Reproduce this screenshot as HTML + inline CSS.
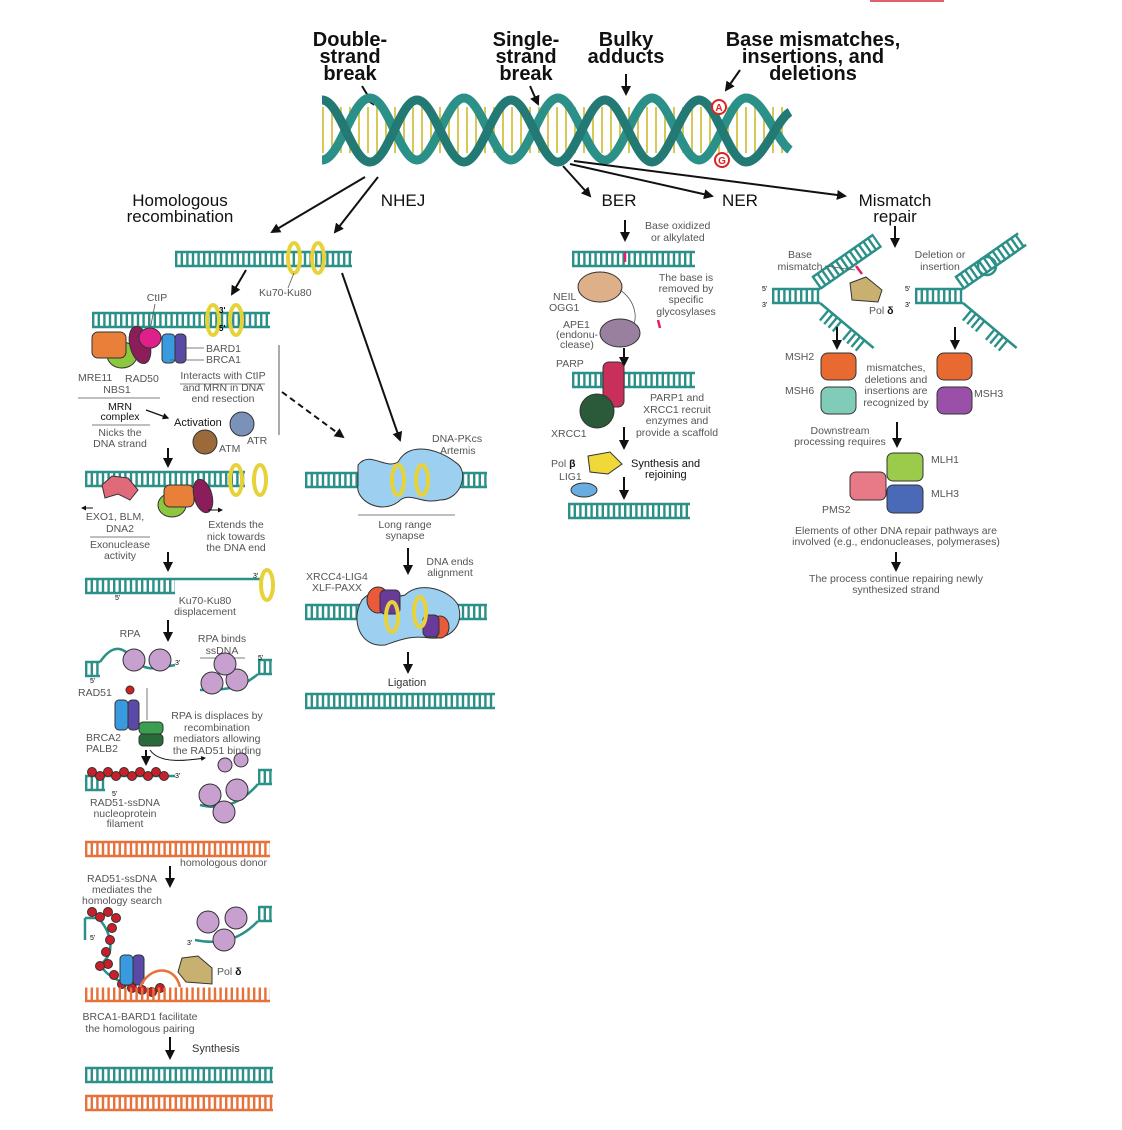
<!DOCTYPE html>
<html><head><meta charset="utf-8"><style>
body{margin:0;background:#fff}
svg{display:block;font-family:"Liberation Sans",sans-serif}
.r{stroke:#2a9088;stroke-width:13;stroke-dasharray:2.4 3.2;fill:none}
.rl{stroke:#2a9088;stroke-width:2.5;fill:none}
.ro{stroke:#e8703a;stroke-width:13;stroke-dasharray:2.4 3.2;fill:none}
.rol{stroke:#e8703a;stroke-width:2.5;fill:none}
.t{font-size:10.5px;fill:#555;text-anchor:middle}
.tl{font-size:10.5px;fill:#555}
.h{font-size:20px;font-weight:bold;fill:#111;text-anchor:middle}
.s{font-size:17px;fill:#111;text-anchor:middle}
.a{stroke:#111;stroke-width:2;fill:none;marker-end:url(#ar)}
.ku{fill:none;stroke:#e8d23a;stroke-width:4}
.kuo{fill:none;stroke:#333;stroke-width:0.8}
.ln{stroke:#555;stroke-width:0.8;fill:none}
.k{stroke:#333;stroke-width:1}
</style></head><body>
<svg width="1122" height="1130" viewBox="0 0 1122 1130">
<defs>
<marker id="ar" viewBox="0 0 10 10" refX="8" refY="5" markerWidth="5" markerHeight="5" orient="auto"><path d="M0,0L10,5L0,10z" fill="#111"/></marker>
<clipPath id="hc"><rect x="322" y="100" width="468" height="60"/></clipPath>
</defs>
<rect x="870" y="0" width="74" height="2" fill="#e06070"/>
<!-- headers -->
<text class="h" x="350" y="46">Double-</text><text class="h" x="350" y="63">strand</text><text class="h" x="350" y="80">break</text>
<text class="h" x="526" y="46">Single-</text><text class="h" x="526" y="63">strand</text><text class="h" x="526" y="80">break</text>
<text class="h" x="626" y="46">Bulky</text><text class="h" x="626" y="63">adducts</text>
<text class="h" x="813" y="46">Base mismatches,</text><text class="h" x="813" y="63">insertions, and</text><text class="h" x="813" y="80">deletions</text>
<line class="a" x1="362" y1="86" x2="373" y2="104"/>
<line class="a" x1="530" y1="86" x2="538" y2="104"/>
<line class="a" x1="626" y1="74" x2="626" y2="94"/>
<line class="a" x1="740" y1="70" x2="726" y2="90"/>
<!-- helix -->
<line x1="322" y1="130" x2="790" y2="130" stroke="#d8c858" stroke-width="46" stroke-dasharray="2 7" clip-path="url(#hc)"/>
<path d="M322,160 C340,160 352,98 370,98 S400,160 417,160 S447,98 464,98 S494,160 511,160 S541,98 558,98 S588,160 605,160 S635,98 652,98 S682,160 699,160 S729,98 746,98 S776,140 790,150" fill="none" stroke="#2a9088" stroke-width="9"/>
<path d="M322,100 C340,100 352,162 370,162 S400,100 417,100 S447,162 464,162 S494,100 511,100 S541,162 558,162 S588,100 605,100 S635,162 652,162 S682,100 699,100 S729,162 746,162 S776,120 790,112" fill="none" stroke="#237a74" stroke-width="9"/>
<circle cx="719" cy="107" r="7" fill="#fff" stroke="#d22" stroke-width="2"/><text x="719" y="111" font-size="10" font-weight="bold" fill="#d22" text-anchor="middle">A</text>
<circle cx="722" cy="160" r="7" fill="#fff" stroke="#d22" stroke-width="2"/><text x="722" y="164" font-size="10" font-weight="bold" fill="#d22" text-anchor="middle">G</text>
<!-- branch arrows -->
<line class="a" x1="365" y1="177" x2="272" y2="232"/>
<line class="a" x1="378" y1="177" x2="335" y2="232"/>
<line class="a" x1="563" y1="166" x2="590" y2="196"/>
<line class="a" x1="570" y1="164" x2="712" y2="196"/>
<line class="a" x1="574" y1="161" x2="845" y2="196"/>
<text class="s" x="180" y="206">Homologous</text><text class="s" x="180" y="222">recombination</text>
<text class="s" x="403" y="206">NHEJ</text>
<text class="s" x="619" y="206">BER</text>
<text class="s" x="740" y="206">NER</text>
<text class="s" x="895" y="206">Mismatch</text><text class="s" x="895" y="222">repair</text>

<!-- HR -->
<line class="r" x1="175" y1="259" x2="352" y2="259"/><line class="rl" x1="175" y1="252" x2="352" y2="252"/><line class="rl" x1="175" y1="266" x2="352" y2="266"/>
<ellipse class="ku" cx="294" cy="258" rx="6" ry="15"/><ellipse class="ku" cx="318" cy="258" rx="6" ry="15"/>
<text class="tl" x="259" y="296">Ku70-Ku80</text><line class="ln" x1="288" y1="288" x2="294" y2="273"/>
<line class="a" x1="246" y1="270" x2="232" y2="294"/>
<line class="r" x1="92" y1="320" x2="270" y2="320"/><line class="rl" x1="92" y1="313" x2="270" y2="313"/><line class="rl" x1="92" y1="327" x2="270" y2="327"/>
<ellipse class="ku" cx="213" cy="320" rx="6" ry="15"/><ellipse class="ku" cx="236" cy="320" rx="6" ry="15"/>
<text x="219" y="313" font-size="8" font-weight="bold">3'</text><text x="219" y="331" font-size="8" font-weight="bold">5'</text>
<ellipse cx="122" cy="355" rx="15" ry="13" fill="#8dc63f" class="k"/>
<rect x="92" y="332" width="34" height="26" rx="6" fill="#e8803a" class="k"/>
<ellipse cx="140" cy="345" rx="10" ry="19" fill="#8b1e5a" class="k" transform="rotate(-15 140 345)"/>
<ellipse cx="150" cy="338" rx="11" ry="10" fill="#e0208a" class="k"/>
<rect x="162" y="334" width="13" height="29" rx="4" fill="#3a9ae0" class="k"/><rect x="175" y="334" width="11" height="29" rx="4" fill="#5a4aa8" class="k"/>
<text class="t" x="157" y="301">CtIP</text><line class="ln" x1="155" y1="304" x2="150" y2="330"/>
<text class="tl" x="206" y="352">BARD1</text><text class="tl" x="206" y="363">BRCA1</text>
<line class="ln" x1="183" y1="348" x2="204" y2="348"/><line class="ln" x1="170" y1="360" x2="204" y2="360"/>
<text class="tl" x="78" y="381">MRE11</text><text class="tl" x="125" y="382">RAD50</text><text class="t" x="117" y="393">NBS1</text>
<line class="ln" x1="78" y1="398" x2="160" y2="398"/>
<text class="t" x="120" y="410" fill="#111" style="fill:#111">MRN</text><text class="t" x="120" y="420" style="fill:#111">complex</text>
<line class="ln" x1="92" y1="425" x2="150" y2="425"/>
<text class="t" x="120" y="436">Nicks the</text><text class="t" x="120" y="447">DNA strand</text>
<line class="ln" x1="180" y1="384" x2="265" y2="384"/>
<text class="t" x="223" y="379">Interacts with CtIP</text><text class="t" x="223" y="391">and MRN in DNA</text><text class="t" x="223" y="402">end resection</text>
<line x1="146" y1="410" x2="168" y2="418" class="a" style="stroke-width:1.3"/>
<text x="174" y="426" font-size="11" fill="#111">Activation</text>
<circle cx="242" cy="424" r="12" fill="#7a92b8" class="k"/><circle cx="205" cy="442" r="12" fill="#9a6a3a" class="k"/>
<text class="tl" x="247" y="444">ATR</text><text class="tl" x="219" y="452">ATM</text>
<line x1="279" y1="345" x2="279" y2="435" stroke="#555" stroke-width="1"/>
<line x1="282" y1="392" x2="343" y2="437" class="a" stroke-dasharray="6 4"/>
<line class="a" x1="342" y1="273" x2="400" y2="440"/>
<line class="a" x1="168" y1="448" x2="168" y2="466"/>
<line class="r" x1="85" y1="479" x2="245" y2="479"/><line class="rl" x1="85" y1="472" x2="245" y2="472"/><line class="rl" x1="85" y1="486" x2="245" y2="486"/>
<ellipse class="ku" cx="236" cy="480" rx="6" ry="15"/><ellipse class="ku" cx="260" cy="480" rx="6" ry="15"/>
<path d="M102,485 L112,476 L128,478 L138,490 L130,500 L118,494 L105,498z" fill="#e06a7a" class="k"/>
<ellipse cx="172" cy="505" rx="14" ry="12" fill="#8dc63f" class="k"/>
<rect x="164" y="485" width="30" height="22" rx="6" fill="#e8803a" class="k"/>
<ellipse cx="203" cy="496" rx="9" ry="17" fill="#8b1e5a" class="k" transform="rotate(-15 203 496)"/>
<line x1="93" y1="508" x2="82" y2="508" class="a" style="stroke-width:1"/><line x1="208" y1="510" x2="222" y2="510" class="a" style="stroke-width:1"/>
<text class="t" x="115" y="520">EXO1, BLM,</text><text class="t" x="120" y="532">DNA2</text>
<line class="ln" x1="90" y1="537" x2="150" y2="537"/>
<text class="t" x="120" y="548">Exonuclease</text><text class="t" x="120" y="559">activity</text>
<text class="t" x="236" y="528">Extends the</text><text class="t" x="236" y="540">nick towards</text><text class="t" x="236" y="551">the DNA end</text>
<line class="a" x1="168" y1="552" x2="168" y2="570"/>
<line class="rl" x1="85" y1="579" x2="262" y2="579"/><line class="r" x1="85" y1="586" x2="175" y2="586"/><line class="rl" x1="85" y1="593" x2="175" y2="593"/>
<text x="115" y="600" font-size="7">5'</text><text x="253" y="578" font-size="7">3'</text>
<ellipse class="ku" cx="267" cy="585" rx="6" ry="15"/>
<text class="t" x="205" y="604">Ku70-Ku80</text><text class="t" x="205" y="615">displacement</text>
<line class="a" x1="168" y1="620" x2="168" y2="640"/>
<text class="t" x="130" y="637">RPA</text>
<line class="rl" x1="85" y1="662" x2="100" y2="662"/><line class="rl" x1="85" y1="676" x2="100" y2="676"/><line class="r" x1="85" y1="669" x2="100" y2="669"/>
<path d="M100,662 C115,640 125,650 135,660 S150,670 175,665" class="rl"/>
<circle cx="134" cy="660" r="11" fill="#c8a0d0" class="k"/><circle cx="160" cy="660" r="11" fill="#c8a0d0" class="k"/>
<text x="90" y="683" font-size="7">5'</text><text x="175" y="665" font-size="7">3'</text>
<text class="t" x="222" y="642">RPA binds</text><text class="t" x="222" y="654">ssDNA</text><line class="ln" x1="200" y1="658" x2="245" y2="658"/>
<line class="rl" x1="258" y1="660" x2="272" y2="660"/><line class="rl" x1="258" y1="674" x2="272" y2="674"/><line class="r" x1="258" y1="667" x2="272" y2="667"/>
<path d="M258,674 C240,690 220,690 200,690" class="rl"/>
<circle cx="212" cy="683" r="11" fill="#c8a0d0" class="k"/><circle cx="237" cy="680" r="11" fill="#c8a0d0" class="k"/><circle cx="225" cy="664" r="11" fill="#c8a0d0" class="k"/>
<text x="258" y="660" font-size="7">5'</text>
<text class="tl" x="78" y="696">RAD51</text><circle cx="130" cy="690" r="4" fill="#d02020" class="k"/>
<rect x="115" y="700" width="13" height="30" rx="4" fill="#3a9ae0" class="k"/><rect x="128" y="700" width="11" height="30" rx="4" fill="#5a4aa8" class="k"/>
<rect x="139" y="722" width="24" height="12" rx="4" fill="#3aa050" class="k"/><rect x="139" y="734" width="24" height="12" rx="4" fill="#2a6a3a" class="k"/>
<line class="ln" x1="147" y1="688" x2="147" y2="720"/>
<text class="tl" x="86" y="741">BRCA2</text><text class="tl" x="86" y="752">PALB2</text>
<text class="t" x="217" y="719">RPA is displaces by</text><text class="t" x="217" y="731">recombination</text><text class="t" x="217" y="742">mediators allowing</text><text class="t" x="217" y="754">the RAD51 binding</text>
<path d="M150,750 C160,765 190,760 205,758" class="a" style="stroke-width:1"/>
<circle cx="225" cy="765" r="7" fill="#c8a0d0" class="k"/><circle cx="241" cy="760" r="7" fill="#c8a0d0" class="k"/>
<line class="a" x1="146" y1="750" x2="146" y2="764"/>
<line class="rl" x1="85" y1="776" x2="175" y2="776"/><line class="r" x1="85" y1="783" x2="105" y2="783"/><line class="rl" x1="85" y1="790" x2="105" y2="790"/>
<g fill="#c8202a" class="k"><circle cx="92" cy="772" r="4.5"/><circle cx="100" cy="776" r="4.5"/><circle cx="108" cy="772" r="4.5"/><circle cx="116" cy="776" r="4.5"/><circle cx="124" cy="772" r="4.5"/><circle cx="132" cy="776" r="4.5"/><circle cx="140" cy="772" r="4.5"/><circle cx="148" cy="776" r="4.5"/><circle cx="156" cy="772" r="4.5"/><circle cx="164" cy="776" r="4.5"/></g>
<text x="175" y="778" font-size="7">3'</text><text x="112" y="796" font-size="7">5'</text>
<text class="t" x="125" y="806">RAD51-ssDNA</text><text class="t" x="125" y="817">nucleoprotein</text><text class="t" x="125" y="827">filament</text>
<line class="rl" x1="258" y1="770" x2="272" y2="770"/><line class="rl" x1="258" y1="784" x2="272" y2="784"/><line class="r" x1="258" y1="777" x2="272" y2="777"/>
<path d="M258,784 C240,805 220,810 200,805" class="rl"/>
<circle cx="210" cy="795" r="11" fill="#c8a0d0" class="k"/><circle cx="237" cy="790" r="11" fill="#c8a0d0" class="k"/><circle cx="224" cy="812" r="11" fill="#c8a0d0" class="k"/>
<line class="ro" x1="85" y1="849" x2="270" y2="849"/><line class="rol" x1="85" y1="842" x2="270" y2="842"/><line class="rol" x1="85" y1="856" x2="270" y2="856"/>
<text class="tl" x="180" y="866">homologous donor</text>
<line class="a" x1="170" y1="866" x2="170" y2="886"/>
<text class="t" x="122" y="882">RAD51-ssDNA</text><text class="t" x="122" y="893">mediates the</text><text class="t" x="122" y="904">homology search</text>
<line class="rl" x1="85" y1="918" x2="85" y2="940"/><line class="rl" x1="85" y1="918" x2="98" y2="918"/>
<path d="M98,918 C110,930 115,950 105,960 S115,980 140,990" class="rl"/>
<g fill="#c8202a" class="k"><circle cx="92" cy="912" r="4.5"/><circle cx="100" cy="917" r="4.5"/><circle cx="108" cy="912" r="4.5"/><circle cx="116" cy="918" r="4.5"/><circle cx="112" cy="928" r="4.5"/><circle cx="110" cy="940" r="4.5"/><circle cx="106" cy="952" r="4.5"/><circle cx="108" cy="964" r="4.5"/><circle cx="114" cy="975" r="4.5"/><circle cx="122" cy="984" r="4.5"/><circle cx="132" cy="988" r="4.5"/><circle cx="142" cy="990" r="4.5"/><circle cx="152" cy="992" r="4.5"/><circle cx="160" cy="988" r="4.5"/><circle cx="100" cy="966" r="4.5"/></g>
<rect x="120" y="955" width="13" height="30" rx="4" fill="#3a9ae0" class="k"/><rect x="133" y="955" width="11" height="30" rx="4" fill="#5a4aa8" class="k"/>
<line class="ro" x1="85" y1="994" x2="270" y2="994"/><line class="rol" x1="85" y1="1001" x2="270" y2="1001"/>
<path d="M140,987 C150,965 175,965 180,987" fill="#f8d0b0" class="rol"/>
<path d="M182,958 L198,956 L212,968 L212,984 L186,982 L178,972z" fill="#c8b070" class="k"/>
<text x="217" y="975" font-size="10.5" fill="#555">Pol <tspan font-weight="bold" fill="#111">δ</tspan></text>
<text x="90" y="940" font-size="7">5'</text><text x="187" y="945" font-size="7">3'</text>
<line class="rl" x1="258" y1="907" x2="272" y2="907"/><line class="rl" x1="258" y1="921" x2="272" y2="921"/><line class="r" x1="258" y1="914" x2="272" y2="914"/>
<path d="M258,921 C240,940 220,945 195,940" class="rl"/>
<circle cx="208" cy="922" r="11" fill="#c8a0d0" class="k"/><circle cx="236" cy="918" r="11" fill="#c8a0d0" class="k"/><circle cx="224" cy="940" r="11" fill="#c8a0d0" class="k"/>
<text class="t" x="140" y="1020">BRCA1-BARD1 facilitate</text><text class="t" x="140" y="1032">the homologous pairing</text>
<line class="a" x1="170" y1="1037" x2="170" y2="1058"/><text x="192" y="1052" font-size="11" fill="#333">Synthesis</text>
<line class="r" x1="85" y1="1075" x2="273" y2="1075"/><line class="rl" x1="85" y1="1068" x2="273" y2="1068"/><line class="rl" x1="85" y1="1082" x2="273" y2="1082"/>
<line class="ro" x1="85" y1="1103" x2="273" y2="1103"/><line class="rol" x1="85" y1="1096" x2="273" y2="1096"/><line class="rol" x1="85" y1="1110" x2="273" y2="1110"/>

<!-- NHEJ -->
<text class="tl" x="432" y="442">DNA-PKcs</text><text class="tl" x="440" y="454">Artemis</text>
<line class="r" x1="305" y1="480" x2="487" y2="480"/><line class="rl" x1="305" y1="473" x2="487" y2="473"/><line class="rl" x1="305" y1="487" x2="487" y2="487"/>
<path d="M358,465 C370,450 385,470 398,462 C410,440 440,450 455,462 C470,470 462,500 440,500 C420,505 410,490 398,502 C380,515 355,500 358,485z" fill="#9dd0f0" class="k"/>
<ellipse class="ku" cx="398" cy="480" rx="6" ry="15"/><ellipse class="ku" cx="422" cy="480" rx="6" ry="15"/>
<line class="ln" x1="358" y1="515" x2="455" y2="515"/>
<text class="t" x="405" y="528">Long range</text><text class="t" x="405" y="539">synapse</text>
<line class="a" x1="408" y1="548" x2="408" y2="573"/>
<text class="t" x="450" y="565">DNA ends</text><text class="t" x="450" y="576">alignment</text>
<text class="tl" x="306" y="580">XRCC4-LIG4</text><text class="tl" x="312" y="591">XLF-PAXX</text>
<line class="r" x1="305" y1="612" x2="487" y2="612"/><line class="rl" x1="305" y1="605" x2="487" y2="605"/><line class="rl" x1="305" y1="619" x2="487" y2="619"/>
<path d="M362,600 C375,585 390,600 405,595 C420,580 450,590 458,605 C465,625 450,640 430,638 C410,635 400,640 385,645 C360,648 350,620 362,600z" fill="#9dd0f0" class="k"/>
<ellipse cx="378" cy="600" rx="11" ry="13" fill="#e85a3a" class="k"/><rect x="380" y="590" width="20" height="24" rx="5" fill="#6a3a9a" class="k"/>
<ellipse cx="440" cy="627" rx="9" ry="11" fill="#e85a3a" class="k"/><rect x="423" y="615" width="16" height="22" rx="5" fill="#6a3a9a" class="k"/>
<ellipse class="ku" cx="392" cy="617" rx="6" ry="15"/><ellipse class="ku" cx="420" cy="612" rx="6" ry="15"/>
<line class="a" x1="408" y1="652" x2="408" y2="672"/>
<text x="407" y="686" font-size="11" fill="#333" text-anchor="middle">Ligation</text>
<line class="r" x1="305" y1="701" x2="495" y2="701"/><line class="rl" x1="305" y1="694" x2="495" y2="694"/><line class="rl" x1="305" y1="708" x2="495" y2="708"/>

<!-- BER -->
<line class="a" x1="625" y1="220" x2="625" y2="240"/>
<text class="tl" x="645" y="229">Base oxidized</text><text class="tl" x="651" y="241">or alkylated</text>
<line class="r" x1="572" y1="259" x2="695" y2="259"/><line class="rl" x1="572" y1="252" x2="695" y2="252"/><line class="rl" x1="572" y1="266" x2="695" y2="266"/>
<line x1="625" y1="252" x2="625" y2="262" stroke="#e0206a" stroke-width="2.5"/>
<text class="t" x="686" y="281">The base is</text><text class="t" x="686" y="292">removed by</text><text class="t" x="686" y="303">specific</text><text class="t" x="686" y="315">glycosylases</text>
<ellipse cx="600" cy="287" rx="22" ry="15" fill="#ddb08a" class="k"/>
<text class="tl" x="553" y="300">NEIL</text><text class="tl" x="549" y="311">OGG1</text>
<path d="M620,290 C635,300 640,320 630,330" class="ln"/><line x1="658" y1="320" x2="660" y2="328" stroke="#e0206a" stroke-width="2.5"/>
<ellipse cx="620" cy="333" rx="20" ry="14" fill="#9a80a0" class="k"/>
<text class="tl" x="563" y="328">APE1</text><text class="tl" x="556" y="338">(endonu-</text><text class="tl" x="560" y="348">clease)</text>
<line class="a" x1="624" y1="348" x2="624" y2="365"/>
<text class="tl" x="556" y="367">PARP</text>
<line class="r" x1="572" y1="380" x2="695" y2="380"/><line class="rl" x1="572" y1="373" x2="695" y2="373"/><line class="rl" x1="572" y1="387" x2="695" y2="387"/>
<rect x="603" y="362" width="21" height="45" rx="6" fill="#c8305a" class="k"/>
<circle cx="597" cy="411" r="17" fill="#2a5a3a" class="k"/>
<text class="tl" x="551" y="437">XRCC1</text>
<text class="t" x="677" y="401">PARP1 and</text><text class="t" x="677" y="413">XRCC1 recruit</text><text class="t" x="677" y="424">enzymes and</text><text class="t" x="677" y="436">provide a scaffold</text>
<line class="a" x1="624" y1="427" x2="624" y2="448"/>
<path d="M588,456 L610,452 L622,464 L608,474 L590,472z" fill="#f0d83a" class="k"/>
<ellipse cx="584" cy="490" rx="13" ry="7" fill="#6aaee0" class="k"/>
<text x="551" y="467" font-size="10.5" fill="#555">Pol <tspan font-weight="bold" fill="#111">β</tspan></text><text class="tl" x="559" y="480">LIG1</text>
<text x="631" y="467" font-size="11" fill="#111">Synthesis and</text><text x="645" y="478" font-size="11" fill="#111">rejoining</text>
<line class="a" x1="624" y1="477" x2="624" y2="498"/>
<line class="r" x1="568" y1="511" x2="690" y2="511"/><line class="rl" x1="568" y1="504" x2="690" y2="504"/><line class="rl" x1="568" y1="518" x2="690" y2="518"/>

<!-- MMR -->
<line class="a" x1="895" y1="226" x2="895" y2="246"/>
<line class="r" x1="772" y1="296" x2="820" y2="296"/><line class="rl" x1="772" y1="289" x2="820" y2="289"/><line class="rl" x1="772" y1="303" x2="820" y2="303"/>
<g transform="rotate(-35 820 289)"><line class="r" x1="820" y1="282" x2="895" y2="282"/><line class="rl" x1="820" y1="289" x2="895" y2="289"/><line class="rl" x1="820" y1="275" x2="895" y2="275"/></g>
<g transform="rotate(40 820 303)"><line class="r" x1="830" y1="310" x2="850" y2="310"/><line class="r" x1="860" y1="310" x2="880" y2="310"/><line class="rl" x1="820" y1="303" x2="890" y2="303"/></g>
<line x1="856" y1="266" x2="862" y2="274" stroke="#e0206a" stroke-width="2.5"/>
<path d="M850,283 L866,277 L882,290 L878,302 L852,300z" fill="#c8b070" class="k"/>
<text class="t" x="800" y="258">Base</text><text class="t" x="800" y="270">mismatch</text><line class="ln" x1="825" y1="266" x2="855" y2="270"/>
<text x="869" y="314" font-size="10.5" fill="#555">Pol <tspan font-weight="bold" fill="#111">δ</tspan></text>
<text x="762" y="291" font-size="7">5'</text><text x="762" y="307" font-size="7">3'</text>
<line class="r" x1="915" y1="296" x2="963" y2="296"/><line class="rl" x1="915" y1="289" x2="963" y2="289"/><line class="rl" x1="915" y1="303" x2="963" y2="303"/>
<g transform="rotate(-35 963 289)"><line class="r" x1="963" y1="282" x2="1040" y2="282"/><line class="rl" x1="963" y1="289" x2="1040" y2="289"/><line class="rl" x1="963" y1="275" x2="1040" y2="275"/></g>
<g transform="rotate(40 963 303)"><line class="r" x1="973" y1="310" x2="993" y2="310"/><line class="r" x1="1003" y1="310" x2="1023" y2="310"/><line class="rl" x1="963" y1="303" x2="1033" y2="303"/></g>
<circle cx="987" cy="266" r="9" fill="none" class="rl"/>
<text class="t" x="940" y="258">Deletion or</text><text class="t" x="940" y="270">insertion</text>
<text x="905" y="291" font-size="7">5'</text><text x="905" y="307" font-size="7">3'</text>
<line class="a" x1="837" y1="327" x2="837" y2="348"/><line class="a" x1="955" y1="327" x2="955" y2="348"/>
<rect x="821" y="353" width="35" height="27" rx="7" fill="#e86a30" class="k"/><rect x="821" y="387" width="35" height="27" rx="7" fill="#80ccb8" class="k"/>
<rect x="937" y="353" width="35" height="27" rx="7" fill="#e86a30" class="k"/><rect x="937" y="387" width="35" height="27" rx="7" fill="#9a50a8" class="k"/>
<text class="tl" x="785" y="360">MSH2</text><text class="tl" x="785" y="394">MSH6</text><text class="tl" x="974" y="397">MSH3</text>
<text class="t" x="896" y="371">mismatches,</text><text class="t" x="896" y="383">deletions and</text><text class="t" x="896" y="394">insertions are</text><text class="t" x="896" y="406">recognized by</text>
<text class="t" x="840" y="434">Downstream</text><text class="t" x="840" y="445">processing requires</text>
<line class="a" x1="897" y1="422" x2="897" y2="446"/>
<rect x="887" y="453" width="36" height="28" rx="6" fill="#9acb4a" class="k"/>
<rect x="850" y="472" width="36" height="28" rx="6" fill="#e87a88" class="k"/>
<rect x="887" y="485" width="36" height="28" rx="6" fill="#4a6ab8" class="k"/>
<text class="tl" x="931" y="463">MLH1</text><text class="tl" x="931" y="497">MLH3</text><text class="tl" x="822" y="513">PMS2</text>
<text class="t" x="896" y="534">Elements of other DNA repair pathways are</text><text class="t" x="896" y="545">involved (e.g., endonucleases, polymerases)</text>
<line class="a" x1="896" y1="552" x2="896" y2="570"/>
<text class="t" x="896" y="582">The process continue repairing newly</text><text class="t" x="896" y="593">synthesized strand</text>
</svg>
</body></html>
